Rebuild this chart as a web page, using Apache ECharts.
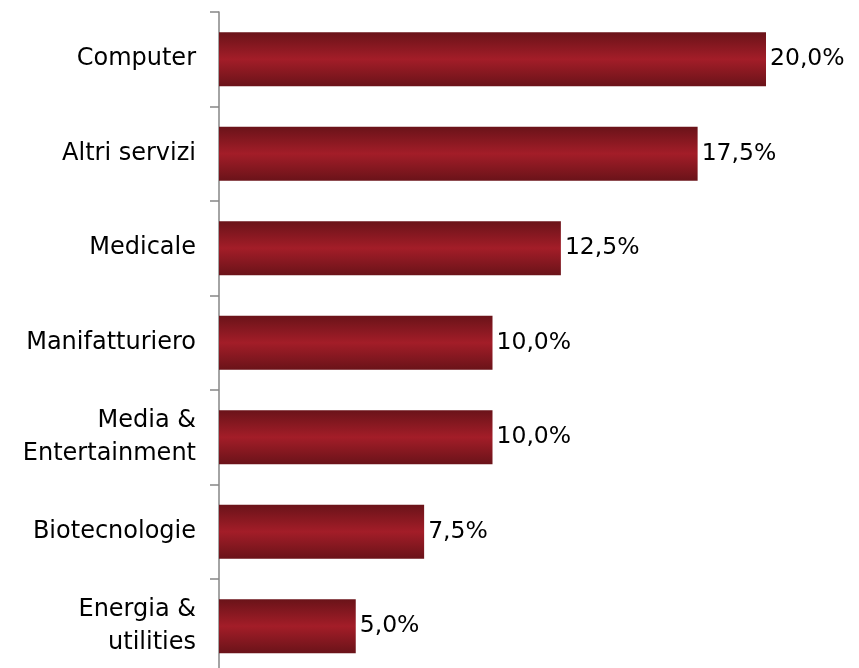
<!DOCTYPE html>
<html>
<head>
<meta charset="utf-8">
<script src="https://cdn.jsdelivr.net/npm/echarts@6/dist/echarts.min.js"></script>
<style>
  html, body { margin: 0; padding: 0; background: #fff; }
  #chart { width: 859px; height: 668px; }
</style>
</head>
<body>
<div id="chart"></div>
<script>
// Sector breakdown (share of deals, %)
const categories = [
  'Computer',
  'Altri servizi',
  'Medicale',
  'Manifatturiero',
  'Media &\nEntertainment',
  'Biotecnologie',
  'Energia &\nutilities'
];
const shares = [20.0, 17.5, 12.5, 10.0, 10.0, 7.5, 5.0];

const fmt = v => v.toFixed(1).replace('.', ',') + '%';

const chart = echarts.init(document.getElementById('chart'), null, { renderer: 'canvas' });

chart.setOption({
  animation: false,
  backgroundColor: '#ffffff',
  grid: {
    left: 219, top: 12, right: 38.3, bottom: -5.5,
    containLabel: false,
    outerBoundsMode: 'none'
  },
  xAxis: {
    type: 'value',
    min: 0,
    max: 22,
    show: false
  },
  yAxis: {
    type: 'category',
    data: categories,
    inverse: true,
    axisLine: { show: true, lineStyle: { color: '#868686', width: 1.5 } },
    axisTick: { show: true, length: 9, lineStyle: { color: '#868686', width: 1.5 } },
    axisLabel: {
      margin: 23,
      color: '#000',
      fontFamily: 'DejaVu Sans',
      fontSize: 24,
      lineHeight: 33,
      align: 'right',
      padding: [4, 0, 0, 0]
    },
    splitLine: { show: false }
  },
  series: [{
    type: 'bar',
    data: shares,
    barWidth: 54,
    itemStyle: {
      color: new echarts.graphic.LinearGradient(0, 0, 0, 1, [
        { offset: 0, color: '#6a1319' },
        { offset: 0.5, color: '#a31d28' },
        { offset: 1, color: '#6a1319' }
      ])
    },
    label: {
      show: true,
      position: 'right',
      distance: 4,
      color: '#000',
      fontFamily: 'DejaVu Sans',
      fontSize: 23.5,
      padding: [4, 0, 0, 0],
      formatter: p => fmt(p.value)
    }
  }]
});
</script>
</body>
</html>
